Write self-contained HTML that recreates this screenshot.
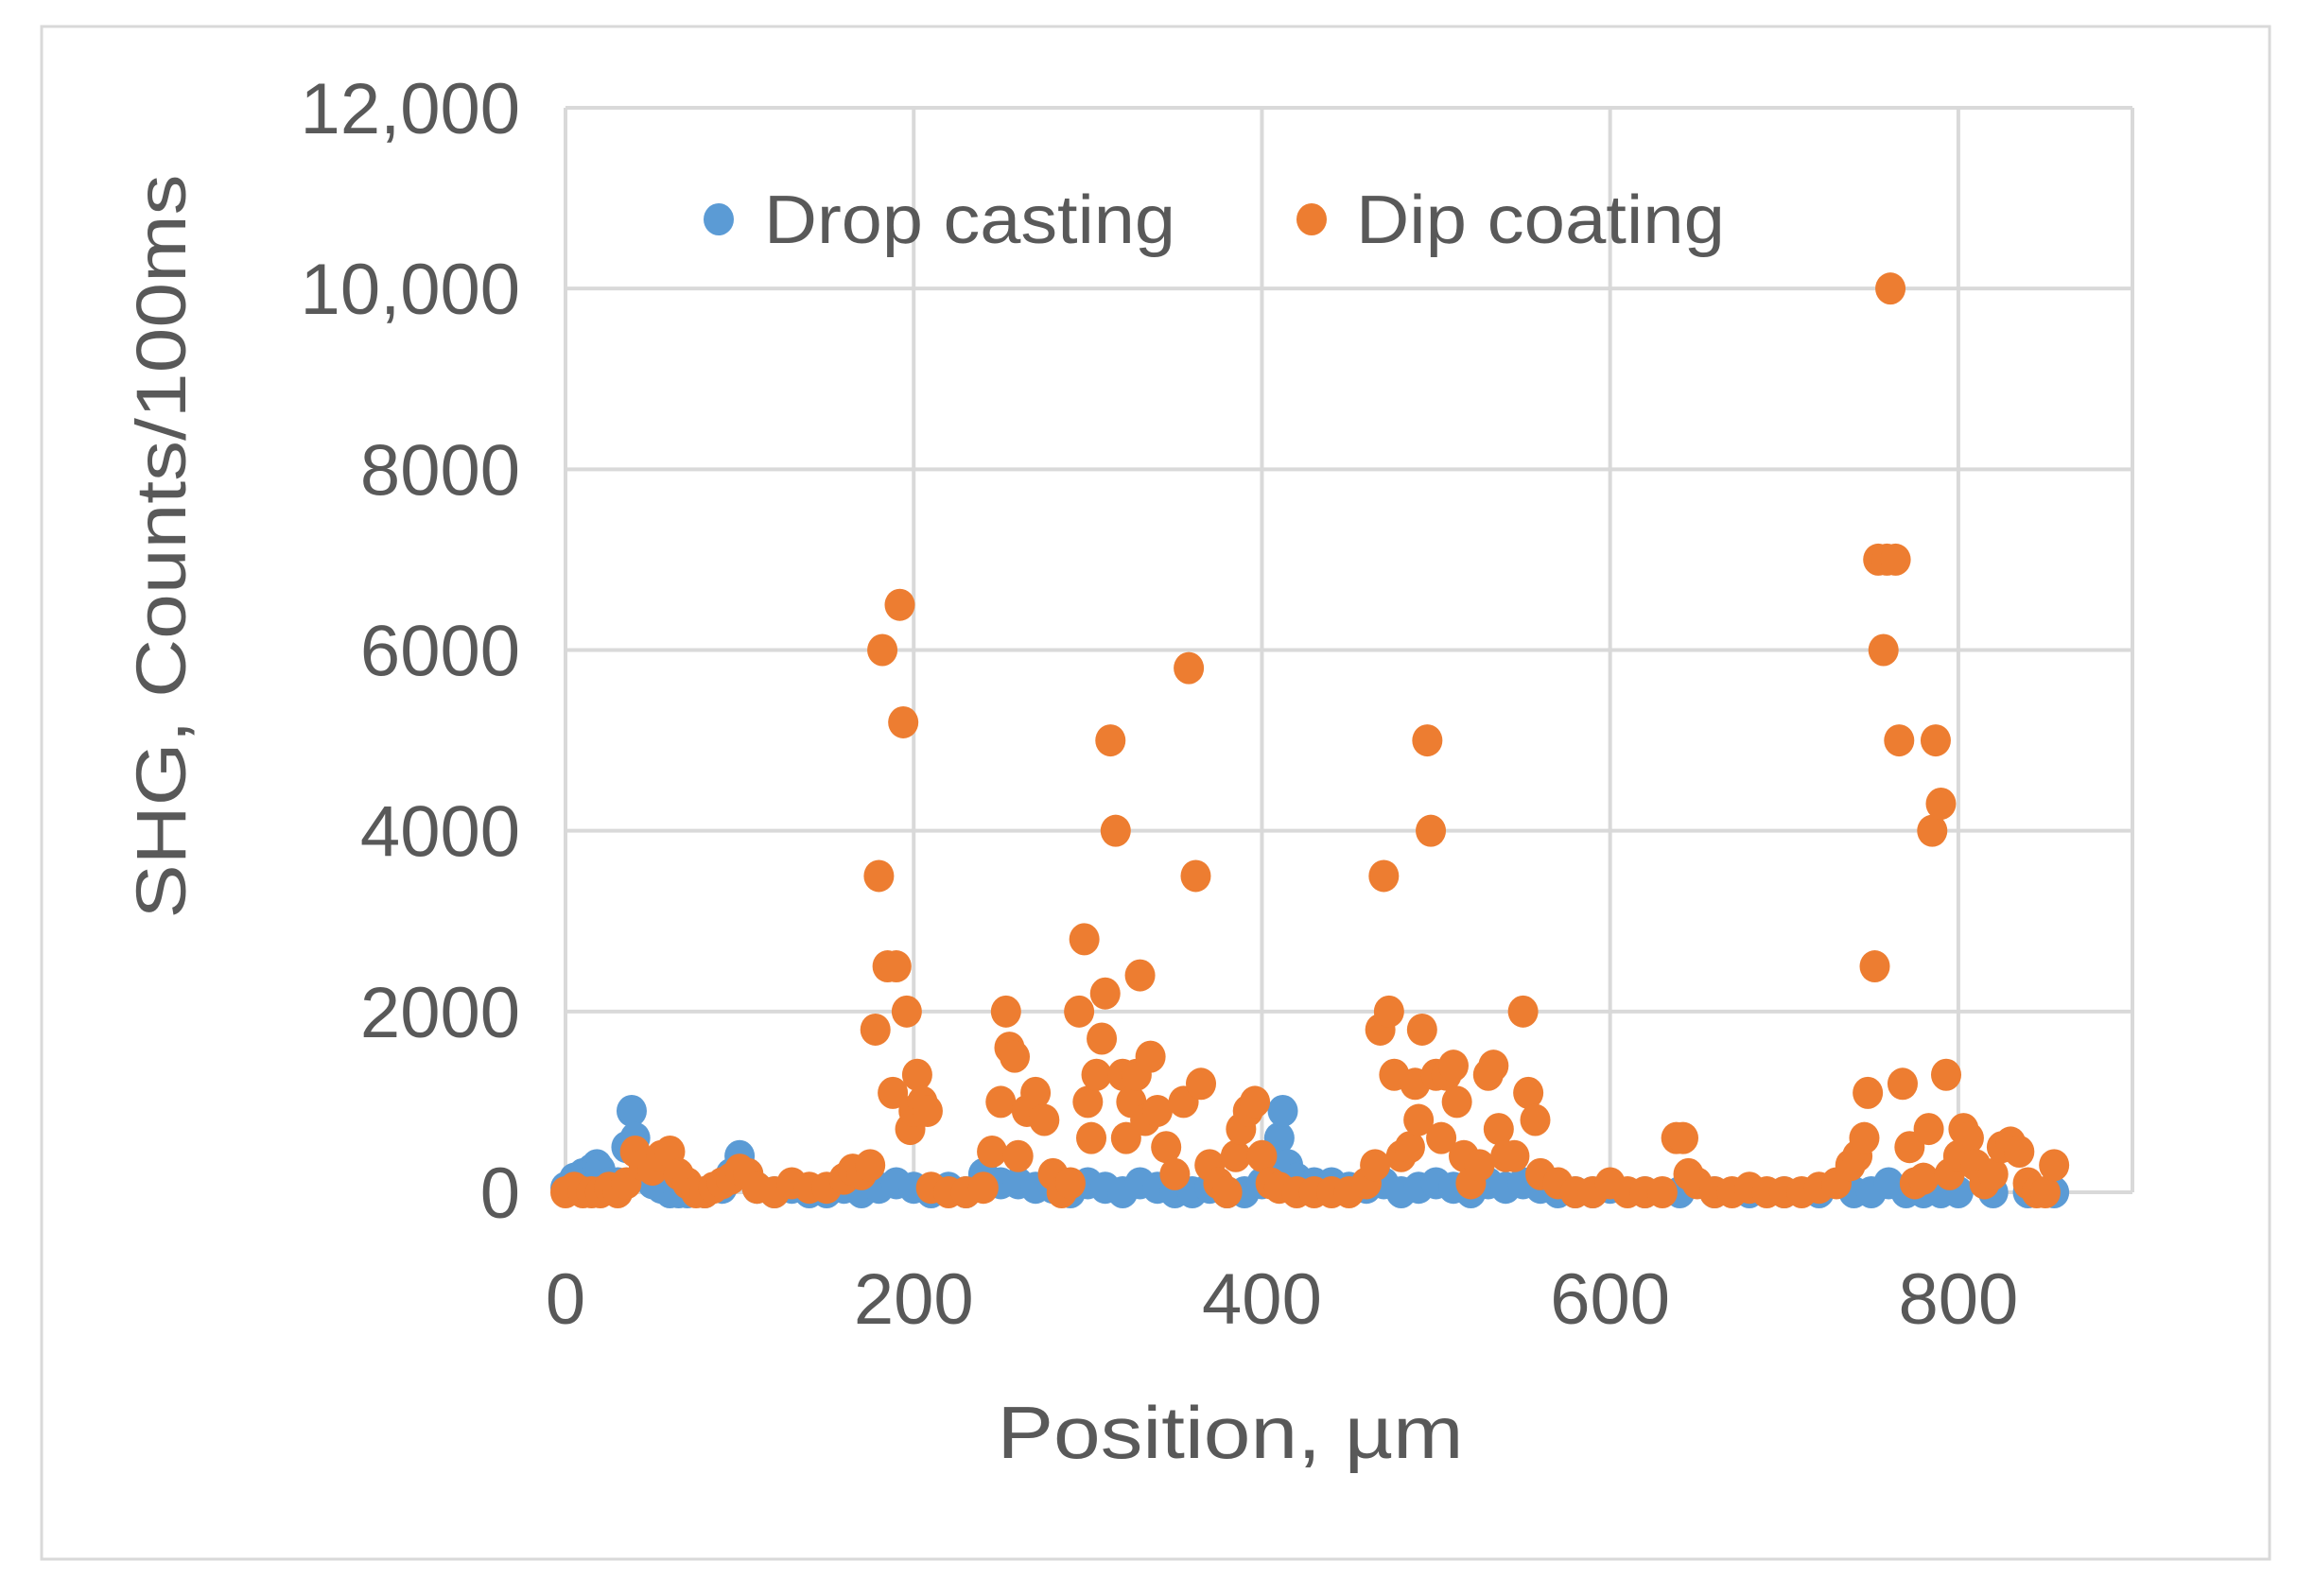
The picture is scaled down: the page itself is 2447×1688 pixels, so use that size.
<!DOCTYPE html>
<html><head><meta charset="utf-8"><style>
html,body{margin:0;padding:0;background:#fff;}
svg{display:block;font-family:"Liberation Sans",sans-serif;}
</style></head><body>
<svg id="chart" width="2447" height="1688" viewBox="0 0 2447 1688">
<rect x="44" y="28" width="2356" height="1621" fill="#fff" stroke="#d9d9d9" stroke-width="3"/>
<g id="grid"></g><g id="pts"></g><g id="labels"></g>
<text x="1301" y="1542" text-anchor="middle" font-size="78" fill="#595959" textLength="493" lengthAdjust="spacingAndGlyphs">Position, µm</text>
<text transform="translate(196,578) rotate(-90)" text-anchor="middle" font-size="74" fill="#595959" textLength="787" lengthAdjust="spacingAndGlyphs">SHG, Counts/100ms</text>
<g>
<g><ellipse cx="760" cy="232" rx="16" ry="17" fill="#5b9bd5"/><text x="808" y="257" font-size="72" fill="#595959" textLength="435" lengthAdjust="spacingAndGlyphs">Drop casting</text></g>
<g><ellipse cx="1387" cy="232" rx="16" ry="17" fill="#ed7d31"/><text x="1434" y="257" font-size="72" fill="#595959" textLength="390" lengthAdjust="spacingAndGlyphs">Dip coating</text></g>
</g>
</svg>
<script>
const xTicks=[0,200,400,600,800];
const xGrid=[0,200,400,600,800,900];
const yTicks=[0,2000,4000,6000,8000,10000,12000];
const yTickLabels=["0","2000","4000","6000","8000","10,000","12,000"];
const dropX=[0,5,10,15,18,20,25,30,35,38,40,45,50,55,60,65,70,80,90,95,100,105,110,120,130,140,150,160,170,180,190,200,210,220,230,240,250,260,270,280,290,300,310,320,330,340,350,360,370,380,390,400,405,410,412,415,420,430,440,450,460,470,480,490,500,510,520,530,540,550,560,570,580,590,600,620,640,660,680,700,720,740,750,760,770,780,790,800,820,840,855];
const dropY=[50,150,200,250,300,250,100,100,500,900,600,300,100,50,0,0,0,0,50,200,400,200,50,0,50,0,0,50,0,50,100,50,0,50,0,200,100,100,50,50,0,100,50,0,100,50,0,0,50,0,0,100,400,600,900,300,150,100,100,50,50,100,0,50,100,50,0,100,50,100,50,0,0,0,50,0,0,0,0,0,0,0,0,100,0,0,0,0,0,0,0];
const dipX=[0,5,10,15,20,25,30,35,40,45,50,55,60,65,70,75,80,85,90,95,100,105,110,120,130,140,150,160,165,170,175,178,180,182,185,188,190,192,194,196,198,200,202,205,208,210,220,230,240,245,250,253,255,258,260,265,270,275,280,285,290,295,298,300,302,305,308,310,313,316,320,322,325,328,330,333,336,340,345,350,355,358,362,365,370,375,380,385,388,392,396,400,405,410,420,430,440,450,460,465,468,470,473,476,480,485,488,490,492,495,497,500,503,506,510,512,516,520,525,530,533,536,540,545,550,553,557,560,570,580,590,600,610,620,630,638,642,645,650,660,670,680,690,700,710,720,730,738,742,746,748,752,754,757,759,761,764,766,768,772,775,780,783,785,787,790,793,795,800,803,806,810,815,820,825,830,835,840,845,850,855];
const dipY=[0,50,0,0,0,50,0,100,450,300,250,400,450,200,100,0,0,50,100,150,250,200,50,0,100,50,50,150,250,200,300,1800,3500,6000,2500,1100,2500,6500,5200,2000,700,900,1300,1000,900,50,0,0,50,450,1000,2000,1600,1500,400,900,1100,800,200,0,100,2000,2800,1000,600,1300,1700,2200,5000,4000,1300,600,1000,1300,2400,800,1500,900,500,200,1000,5800,3500,1200,300,100,0,400,700,900,1000,400,100,50,0,0,0,0,100,300,1800,3500,2000,1300,400,500,1200,800,1800,5000,4000,1300,600,1300,1400,1000,400,100,300,1300,1400,700,400,400,2000,1100,800,200,100,0,0,100,0,0,0,600,600,200,100,0,0,50,0,0,0,50,100,300,400,600,1100,2500,7000,6000,7000,10000,7000,5000,1200,500,100,150,700,4000,5000,4300,1300,200,400,700,600,300,100,200,500,550,450,100,0,0,300];
const X0=598,X1=2255,Y0=1261,Y1=114;
function sx(v){return X0+(X1-X0)*v/900;}
function sy(v){return Y0+(Y1-Y0)*v/12000;}
const NS="http://www.w3.org/2000/svg";
const grid=document.getElementById('grid'),pts=document.getElementById('pts'),lab=document.getElementById('labels');
function mk(tag,attrs,parent){const e=document.createElementNS(NS,tag);for(const k in attrs)e.setAttribute(k,attrs[k]);parent.appendChild(e);return e;}
yTicks.forEach((v,i)=>{
  const l=mk('line',{x1:X0,x2:X1,y1:sy(v),y2:sy(v),stroke:'#d9d9d9','stroke-width':4},grid);
  
  
  const t=mk('text',{x:550,y:sy(v)+27,'text-anchor':'end','font-size':76,fill:'#595959'},lab);
  t.textContent=yTickLabels[i];
  
  
});
xGrid.forEach(v=>{
  const l=mk('line',{x1:sx(v),x2:sx(v),y1:Y1,y2:Y0,stroke:'#d9d9d9','stroke-width':4},grid);
  
  
});
xTicks.forEach(v=>{
  const t=mk('text',{x:sx(v),y:1400,'text-anchor':'middle','font-size':76,fill:'#595959'},lab);
  t.textContent=String(v);
  
  
});
dropX.forEach((x,i)=>{
  const e=mk('ellipse',{cx:sx(x),cy:sy(dropY[i]),rx:16,ry:17,fill:'#5b9bd5'},pts);
  
  
});
dipX.forEach((x,i)=>{
  const e=mk('ellipse',{cx:sx(x),cy:sy(dipY[i]),rx:16,ry:17,fill:'#ed7d31'},pts);
  
  
});
</script>
</body></html>
